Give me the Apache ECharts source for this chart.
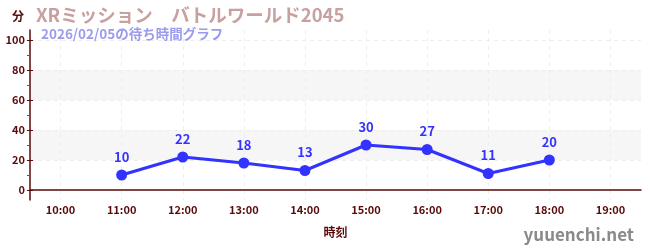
<!DOCTYPE html>
<html>
<head>
<meta charset="utf-8">
<script src="https://cdn.jsdelivr.net/npm/echarts@6/dist/echarts.min.js"></script>
<style>html,body{margin:0;padding:0;background:#fff}#c{width:650px;height:250px}</style>
</head>
<body>
<div id="c"></div>
<script>
const titleText = 'XRミッション　バトルワールド2045';
const subtitleText = '2026/02/05の待ち時間グラフ';
const categories = ['10:00','11:00','12:00','13:00','14:00','15:00','16:00','17:00','18:00','19:00'];
const waitTimes = [null, 10, 22, 18, 13, 30, 27, 11, 20, null];
const yTicks = [0, 20, 40, 60, 80, 100];
const yMinorTicks = [10, 30, 50, 70, 90];
const yName = '分';
const xName = '時刻';
const watermark = 'yuuenchi.net';

const FONT = '"Noto Sans CJK JP", "Noto Sans", sans-serif';
const AX = '#5a0a0a';
const yMin = -20/3, yMax = 320/3;

const chart = echarts.init(document.getElementById('c'), null, {renderer: 'canvas'});
chart.setOption({
  animation: false,
  textStyle: {fontFamily: FONT},
  title: [
    {text: titleText, left: 31, top: 1, textStyle: {color: '#c9a0a0', fontSize: 18.5, fontWeight: 'bold', fontFamily: FONT}},
    {text: subtitleText, left: 36, top: 22, textStyle: {color: '#9b9bee', fontSize: 13.5, fontWeight: 'bold', fontFamily: FONT}}
  ],
  graphic: [{type: 'text', right: 16, bottom: 7, style: {text: watermark, fill: '#8a8a8a', fontSize: 17, fontFamily: FONT, fontWeight: 'bold'}}],
  grid: {left: 30, right: 9, top: 30, bottom: 50},
  xAxis: {
    type: 'category', data: categories, boundaryGap: true,
    name: xName, nameLocation: 'middle', nameGap: 26,
    nameTextStyle: {color: AX, fontSize: 12, fontWeight: 'bold', fontFamily: FONT},
    axisLine: {lineStyle: {color: AX, width: 1.5}},
    axisTick: {alignWithLabel: true, inside: true, length: 3, lineStyle: {color: '#888', width: 2}},
    axisLabel: {color: AX, fontSize: 11, fontWeight: 'bold', margin: 4, fontFamily: FONT},
    splitLine: {show: true, alignWithLabel: true, lineStyle: {color: '#eeeeee', type: [4, 4]}}
  },
  yAxis: [
    {
      type: 'value', min: yMin, max: yMax,
      name: yName, nameLocation: 'end', nameGap: 8,
      nameTextStyle: {color: AX, fontSize: 12, fontWeight: 'bold', align: 'right', padding: [0, 6, 0, 0], fontFamily: FONT},
      axisLine: {show: true, lineStyle: {color: AX, width: 1.5}},
      axisTick: {show: true, customValues: yTicks, length: 3, lineStyle: {color: AX}},
      axisLabel: {customValues: yTicks, color: AX, fontSize: 11, fontWeight: 'bold', margin: 5, fontFamily: FONT},
      splitLine: {show: true, customValues: yTicks, lineStyle: {color: '#eeeeee', type: [4, 4]}},
      splitArea: {show: true, customValues: yTicks, areaStyle: {color: ['rgba(0,0,0,0)', '#f6f6f6']}}
    },
    {
      type: 'value', min: yMin, max: yMax, position: 'left',
      axisLine: {show: false},
      axisTick: {show: true, inside: true, customValues: yTicks, length: 3, lineStyle: {color: AX}},
      axisLabel: {show: false}, splitLine: {show: false}
    },
    {
      type: 'value', min: yMin, max: yMax, position: 'left',
      axisLine: {show: false},
      axisTick: {show: true, customValues: yMinorTicks, length: 3, lineStyle: {color: '#dd2222'}},
      axisLabel: {show: false}, splitLine: {show: false}
    }
  ],
  series: [{
    type: 'line', data: waitTimes, yAxisIndex: 0,
    symbol: 'circle', symbolSize: 11,
    lineStyle: {color: '#3333ff', width: 3},
    itemStyle: {color: '#3333ff'},
    label: {show: true, position: 'top', distance: 6, color: '#3333ff', fontSize: 13, fontWeight: 'bold', fontFamily: FONT}
  }]
});
</script>
</body>
</html>
